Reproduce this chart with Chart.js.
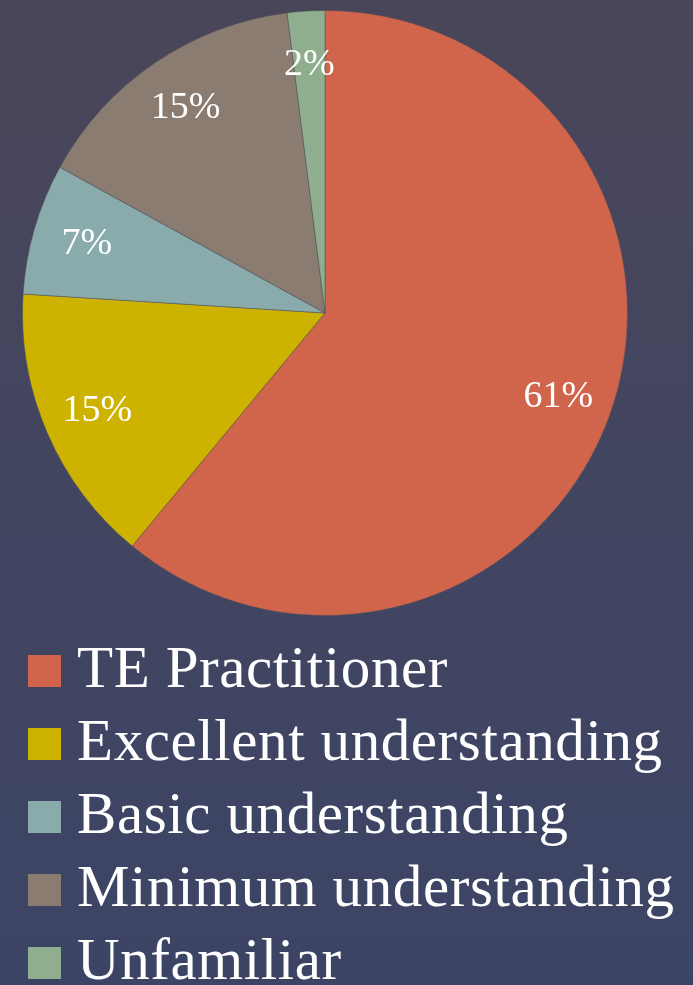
<!DOCTYPE html>
<html>
<head>
<meta charset="utf-8">
<script src="https://cdn.jsdelivr.net/npm/chart.js@4"></script>
<style>
  html, body {
    margin: 0;
    padding: 0;
    width: 693px;
    height: 985px;
    overflow: hidden;
  }
  body {
    position: relative;
    background: linear-gradient(180deg, #4a4659 0%, #424560 50%, #3c4465 100%);
    font-family: "Liberation Serif", "DejaVu Serif", serif;
    color: #ffffff;
  }
  #pie-wrap {
    position: absolute;
    left: 22px;
    top: 10px;
    width: 606px;
    height: 606px;
  }
  #legend {
    position: absolute;
    left: 28px;
    top: 631px;
  }
  .row {
    height: 73px;
    line-height: 73px;
    font-size: 59px;
    letter-spacing: 0.6px;
    white-space: nowrap;
  }
  .swatch {
    display: inline-block;
    width: 33px;
    height: 32px;
    margin-right: 16px;
    vertical-align: baseline;
  }
</style>
</head>
<body>
<div id="pie-wrap"><canvas id="pie"></canvas></div>
<div id="legend"></div>

<script>
const categories = ["TE Practitioner", "Excellent understanding", "Basic understanding", "Minimum understanding", "Unfamiliar"];
const shares = [61, 15, 7, 15, 2]; // percent
const sliceColors = ["#d0654b", "#cdb300", "#8aabac", "#8a7c71", "#8eae8e"];

// percentage labels drawn inside each slice, near the rim
const sliceLabels = {
  id: 'sliceLabels',
  afterDatasetsDraw(chart) {
    const ctx = chart.ctx;
    const meta = chart.getDatasetMeta(0);
    ctx.save();
    ctx.fillStyle = '#ffffff';
    ctx.font = '38px "Liberation Serif", serif';
    ctx.textAlign = 'center';
    ctx.textBaseline = 'middle';
    meta.data.forEach((arc, i) => {
      const p = arc.getProps(['x', 'y', 'startAngle', 'endAngle', 'outerRadius'], true);
      const mid = (p.startAngle + p.endAngle) / 2;
      const r = p.outerRadius * 0.82;
      ctx.fillText(shares[i] + '%', p.x + Math.cos(mid) * r, p.y + Math.sin(mid) * r);
    });
    ctx.restore();
  }
};

new Chart(document.getElementById('pie'), {
  type: 'pie',
  data: {
    labels: categories,
    datasets: [{
      data: shares,
      backgroundColor: sliceColors,
      borderColor: 'rgba(80,80,90,0.5)',
      borderWidth: 1
    }]
  },
  options: {
    responsive: true,
    maintainAspectRatio: false,
    animation: false,
    layout: { padding: 0 },
    plugins: {
      legend: { display: false },
      tooltip: { enabled: false }
    }
  },
  plugins: [sliceLabels]
});

// legend below the pie, one entry per line
const legend = document.getElementById('legend');
categories.forEach((name, i) => {
  const row = document.createElement('div');
  row.className = 'row';
  const sw = document.createElement('span');
  sw.className = 'swatch';
  sw.style.background = sliceColors[i];
  row.appendChild(sw);
  row.appendChild(document.createTextNode(name));
  legend.appendChild(row);
});
</script>
</body>
</html>
